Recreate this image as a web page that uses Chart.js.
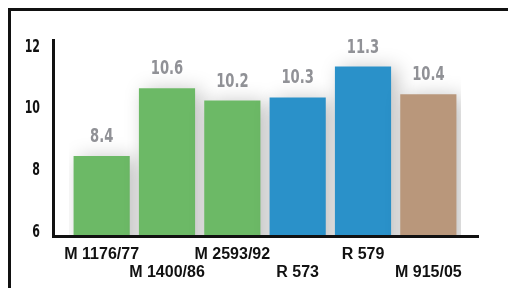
<!DOCTYPE html>
<html>
<head>
<meta charset="utf-8">
<script src="https://cdn.jsdelivr.net/npm/chart.js@4.4.0/dist/chart.umd.min.js"></script>
<style>
body { margin: 0; background: #fff; }
#canvas { display: block; }
</style>
</head>
<body>
<canvas id="canvas" width="508" height="288"></canvas>
<script>
var categories = ['M 1176/77', 'M 1400/86', 'M 2593/92', 'R 573', 'R 579', 'M 915/05'];
var values = [8.4, 10.6, 10.2, 10.3, 11.3, 10.4];
var barColors = ['#6cb966', '#6cb966', '#6cb966', '#2a91c9', '#2a91c9', '#b9977b'];
var yTicks = [6, 8, 10, 12];

// staggered x labels: even ones on the first line, odd ones on the second
var xLabels = categories.map(function(c, i) {
    return i % 2 === 0 ? [c, ''] : ['', c];
});

var condensed = "'DejaVu Sans Condensed', 'DejaVu Sans', sans-serif";

// draw condensed text squeezed horizontally (no narrow font installed)
function narrowText(ctx, text, x, y, size, squeeze, align) {
    ctx.save();
    ctx.font = 'bold ' + size + 'px ' + condensed;
    ctx.textAlign = align;
    ctx.textBaseline = 'alphabetic';
    ctx.translate(x, y);
    ctx.scale(squeeze, 1);
    ctx.fillText(text, 0, 0);
    ctx.restore();
}

var frameAndAxes = {
    id: 'frameAndAxes',
    beforeDatasetsDraw: function(chart) {
        var ctx = chart.ctx;
        ctx.save();
        ctx.shadowColor = 'rgba(0,0,0,0.25)';
        ctx.shadowBlur = 20;
        ctx.shadowOffsetX = 6;
        ctx.shadowOffsetY = 2;
    },
    afterDatasetsDraw: function(chart) {
        var ctx = chart.ctx;
        ctx.restore();
        // value labels
        var meta = chart.getDatasetMeta(0);
        ctx.fillStyle = '#909196';
        meta.data.forEach(function(bar, i) {
            narrowText(ctx, values[i].toFixed(1), bar.x, bar.y - 14, 20, 0.73, 'center');
        });
        // y tick labels
        var y = chart.scales.y;
        ctx.fillStyle = '#111';
        yTicks.forEach(function(v) {
            narrowText(ctx, String(v), 40, y.getPixelForValue(v) + 6.5, 18, 0.68, 'right');
        });
    },
    afterDraw: function(chart) {
        var ctx = chart.ctx;
        var area = chart.chartArea;
        ctx.save();
        ctx.strokeStyle = '#111';
        ctx.lineWidth = 3;
        // outer frame (top and left)
        ctx.beginPath();
        ctx.moveTo(9.5, 288);
        ctx.lineTo(9.5, 9.5);
        ctx.lineTo(508, 9.5);
        ctx.stroke();
        // axes
        ctx.beginPath();
        ctx.moveTo(53.5, 39);
        ctx.lineTo(53.5, area.bottom + 1.5);
        ctx.lineTo(479, area.bottom + 1.5);
        ctx.stroke();
        ctx.restore();
    }
};

var config = {
    type: 'bar',
    data: {
        labels: xLabels,
        datasets: [{
            data: values,
            backgroundColor: barColors,
            borderWidth: 0,
            categoryPercentage: 1,
            barPercentage: 0.86
        }]
    },
    options: {
        responsive: false,
        animation: false,
        layout: {
            padding: { left: 0, right: 47, top: 45, bottom: 0 }
        },
        plugins: {
            legend: { display: false },
            tooltip: { enabled: false }
        },
        scales: {
            x: {
                grid: { display: false, drawTicks: false },
                border: { display: false },
                ticks: {
                    autoSkip: false,
                    maxRotation: 0,
                    padding: 11,
                    color: '#111',
                    font: { family: "'Liberation Sans', Arial, sans-serif", size: 16, weight: 'bold', lineHeight: 1.1 }
                },
                afterFit: function(scale) { scale.height = 53; }
            },
            y: {
                min: 5.84,
                max: 12,
                grid: { display: false, drawTicks: false },
                border: { display: false },
                ticks: { display: false },
                afterBuildTicks: function(scale) {
                    scale.ticks = yTicks.map(function(v) { return { value: v }; });
                },
                afterFit: function(scale) { scale.width = 69; }
            }
        }
    },
    plugins: [frameAndAxes]
};

window.onload = function() {
    window.myBar = new Chart(document.getElementById('canvas'), config);
};
</script>
</body>
</html>
